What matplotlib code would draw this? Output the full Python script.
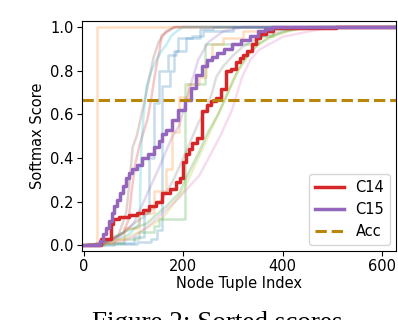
import matplotlib
matplotlib.use("Agg")
import matplotlib.pyplot as plt

# ---- data ----
c14_x = [0, 30, 38, 52, 56, 60, 80, 100, 112, 125, 138, 150, 166, 180, 190, 198, 202, 208, 214, 222,
         233, 243, 253, 260, 273, 280, 290, 300, 310, 317, 324, 334, 344, 350, 360, 374, 387, 628]
c14_y = [0.0, 0.0, 0.03, 0.03, 0.10, 0.12, 0.13, 0.14, 0.15, 0.16, 0.18, 0.20, 0.24, 0.26, 0.29, 0.31,
         0.38, 0.42, 0.44, 0.47, 0.49, 0.615, 0.645, 0.66, 0.676, 0.714, 0.80, 0.81, 0.84, 0.86, 0.87,
         0.89, 0.92, 0.95, 0.97, 0.98, 0.995, 1.0]

c15_x = [0, 30, 34, 42, 48, 54, 58, 64, 70, 76, 82, 88, 94, 100, 112, 122, 134, 146, 154, 162, 170,
         183, 196, 209, 220, 232, 242, 253, 262, 274, 290, 306, 326, 342, 358, 372, 386, 628]
c15_y = [0.0, 0.0, 0.02, 0.05, 0.08, 0.11, 0.15, 0.18, 0.21, 0.24, 0.27, 0.31, 0.33, 0.35, 0.37, 0.40,
         0.42, 0.45, 0.48, 0.51, 0.53, 0.575, 0.62, 0.667, 0.72, 0.78, 0.82, 0.85, 0.865, 0.88, 0.90,
         0.92, 0.94, 0.96, 0.98, 0.99, 1.0, 1.0]

acc_value = 0.667

# faint background curves (other classes)
bg_colors = ["tab:orange", "tab:red", "tab:brown", "tab:cyan", "tab:blue", "tab:blue",
             "tab:gray", "tab:green", "tab:green", "tab:olive", "tab:pink", "tab:purple", "tab:orange"]
bg_steps = [True, False, False, False, True, True, False, True, False, False, False, False, True]
bg_x = [
    [0, 10, 24, 26, 628],
    [0, 40, 60, 80, 90, 96, 104, 112, 120, 128, 136, 142, 148, 152, 156, 172, 180, 628],
    [0, 40, 70, 85, 92, 98, 106, 114, 122, 130, 140, 150, 165, 185, 628],
    [0, 50, 90, 112, 114, 116, 120, 126, 136, 146, 156, 166, 176, 186, 200, 628],
    [0, 30, 106, 134, 146, 156, 158, 170, 174, 182, 204, 206, 232, 234, 260, 628],
    [0, 60, 100, 120, 130, 140, 150, 170, 186, 190, 218, 240, 300, 628],
    [0, 40, 60, 80, 100, 120, 140, 160, 180, 200, 215, 230, 245, 258, 266, 280, 300, 320, 350, 400, 450, 628],
    [0, 40, 80, 110, 140, 152, 202, 204, 242, 244, 340, 350, 380, 420, 628],
    [0, 40, 58, 90, 126, 166, 192, 210, 230, 250, 270, 290, 310, 330, 350, 380, 420, 480, 628],
    [0, 50, 80, 120, 160, 200, 220, 240, 260, 280, 300, 320, 340, 370, 410, 460, 628],
    [0, 40, 80, 100, 130, 162, 192, 232, 258, 276, 298, 318, 335, 352, 400, 466, 510, 628],
    [0, 40, 70, 100, 130, 150, 178, 192, 210, 230, 250, 280, 320, 628],
    [0, 30, 60, 80, 110, 140, 166, 178, 192, 210, 232, 245, 258, 280, 320, 380, 628],
]
bg_y = [
    [0.0, 0.005, 0.01, 1.0, 1.0],
    [0.0, 0.01, 0.03, 0.06, 0.12, 0.25, 0.38, 0.46, 0.52, 0.58, 0.68, 0.77, 0.85, 0.89, 0.96, 0.985, 1.0, 1.0],
    [0.0, 0.01, 0.05, 0.15, 0.30, 0.45, 0.50, 0.58, 0.66, 0.75, 0.86, 0.93, 0.98, 1.0, 1.0],
    [0.0, 0.01, 0.05, 0.10, 0.35, 0.47, 0.60, 0.73, 0.80, 0.85, 0.89, 0.92, 0.96, 0.98, 1.0, 1.0],
    [0.0, 0.005, 0.015, 0.03, 0.07, 0.07, 0.73, 0.73, 0.80, 0.89, 0.89, 0.95, 0.95, 0.99, 1.0, 1.0],
    [0.0, 0.01, 0.04, 0.15, 0.40, 0.65, 0.80, 0.87, 0.89, 0.95, 0.96, 0.98, 1.0, 1.0],
    [0.0, 0.01, 0.03, 0.06, 0.10, 0.13, 0.17, 0.22, 0.30, 0.40, 0.48, 0.56, 0.62, 0.70, 0.77, 0.82, 0.87,
     0.91, 0.95, 0.98, 1.0, 1.0],
    [0.0, 0.01, 0.03, 0.06, 0.09, 0.12, 0.12, 0.74, 0.74, 0.92, 0.92, 0.96, 0.99, 1.0, 1.0],
    [0.0, 0.01, 0.035, 0.07, 0.10, 0.18, 0.24, 0.33, 0.42, 0.52, 0.60, 0.70, 0.80, 0.87, 0.92, 0.96, 0.99, 1.0, 1.0],
    [0.0, 0.01, 0.03, 0.07, 0.13, 0.25, 0.35, 0.45, 0.55, 0.65, 0.76, 0.84, 0.90, 0.95, 0.98, 1.0, 1.0],
    [0.0, 0.01, 0.02, 0.04, 0.09, 0.155, 0.22, 0.32, 0.43, 0.51, 0.62, 0.77, 0.85, 0.895, 0.955, 0.986, 1.0, 1.0],
    [0.0, 0.01, 0.04, 0.10, 0.25, 0.35, 0.50, 0.55, 0.70, 0.85, 0.93, 0.98, 1.0, 1.0],
    [0.0, 0.01, 0.03, 0.08, 0.15, 0.25, 0.35, 0.52, 0.68, 0.74, 0.77, 0.85, 0.92, 0.95, 0.98, 1.0, 1.0],
]

x_ticks = [0, 200, 400, 600]
y_ticks = [0.0, 0.2, 0.4, 0.6, 0.8, 1.0]

# ---- figure ----
fig = plt.figure(figsize=(3.98, 3.20), dpi=100)
ax = fig.add_axes([0.206, 0.216, 0.789, 0.718])

for col, stp, xs, ys in zip(bg_colors, bg_steps, bg_x, bg_y):
    ax.plot(xs, ys, color=col, alpha=0.25, lw=1.8,
            drawstyle="steps-post" if stp else "default")

ax.plot(c14_x, c14_y, color="tab:red", lw=2.5, drawstyle="steps-mid", label="C14")
ax.plot(c15_x, c15_y, color="tab:purple", lw=2.5, drawstyle="steps-mid", label="C15")
ax.axhline(acc_value, color="darkgoldenrod", lw=2.2, ls="--", label="Acc")

ax.set_xlim(-4, 628)
ax.set_ylim(-0.025, 1.027)
ax.set_xticks(x_ticks)
ax.set_yticks(y_ticks)
ax.set_xticklabels([str(t) for t in x_ticks])
ax.set_yticklabels([f"{t:.1f}" for t in y_ticks])
ax.tick_params(labelsize=10.5, pad=2.5)
ax.set_xlabel("Node Tuple Index", fontsize=10.5, labelpad=1)
ax.set_ylabel("Softmax Score", fontsize=10.5, labelpad=4)
ax.legend(loc="lower right", fontsize=10.5, handlelength=2.0, borderaxespad=0.4)

fig.text(0.545, -0.031, "Figure 2: Sorted scores", family="Liberation Serif",
         fontsize=19.5, ha="center", va="baseline")

fig.savefig("out.png", dpi=100)
